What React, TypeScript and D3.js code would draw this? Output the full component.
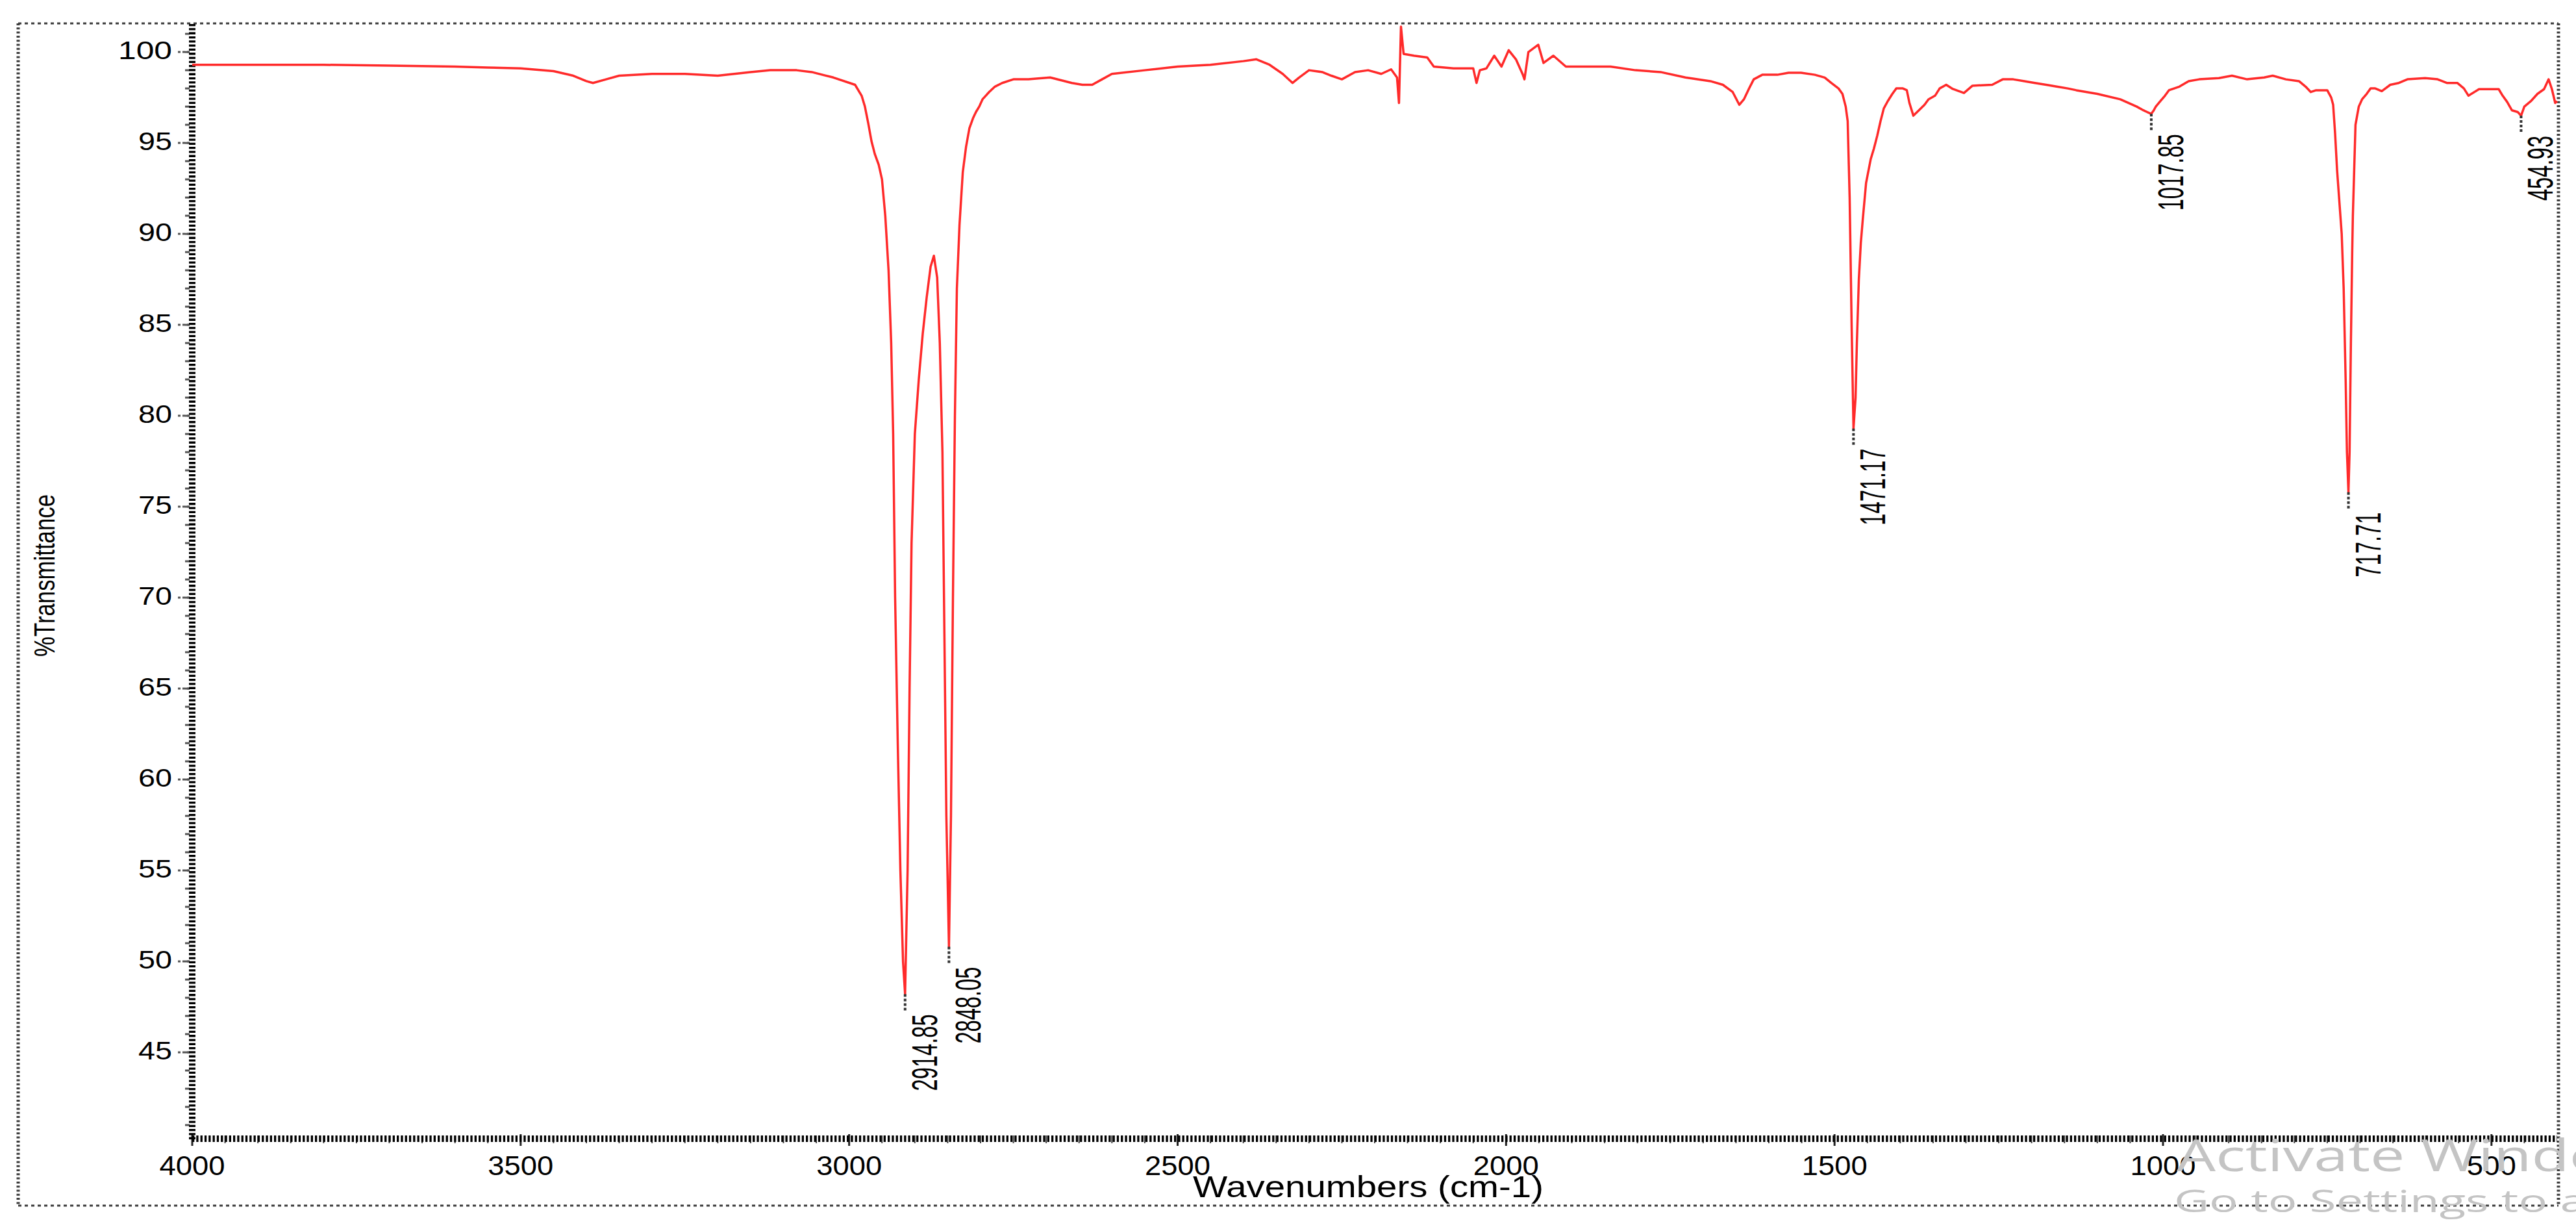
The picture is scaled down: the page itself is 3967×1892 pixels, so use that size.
import React from "react";
import * as d3 from "d3";

// ---- data ----
const wavenumbers = [
  4000, 3900, 3800, 3700, 3600, 3550, 3500, 3450, 3420, 3400, 3390, 3370, 3350, 3300, 3250, 3200, 3150, 3120, 3080, 3057,
  3024, 2991, 2981, 2976, 2971, 2966, 2961, 2955, 2950, 2945, 2940, 2936, 2933, 2930, 2926, 2922, 2918, 2914.85,
  2911, 2908, 2905, 2900, 2894, 2888, 2882, 2876, 2871, 2866, 2862, 2858, 2855, 2852, 2848.05,
  2845, 2842, 2839, 2836, 2832, 2827, 2822, 2817, 2811, 2807, 2802, 2797, 2792, 2787, 2778, 2767, 2750, 2727, 2694,
  2661, 2645, 2630, 2615, 2600, 2550, 2500, 2450, 2400, 2380, 2360, 2340, 2325, 2315, 2300, 2280, 2266, 2250, 2230,
  2210, 2190, 2175, 2166, 2163, 2160, 2156, 2140, 2120, 2110, 2080, 2050, 2045, 2040, 2030, 2018, 2007, 1996, 1985,
  1975, 1972, 1966, 1951, 1943, 1928, 1909, 1879, 1841, 1803, 1765, 1727, 1689, 1670, 1655, 1645, 1638, 1630, 1623,
  1610, 1587, 1570, 1551, 1530, 1515, 1505, 1494, 1488, 1483, 1480, 1477, 1474, 1471.17, 1468, 1466, 1463, 1460, 1457,
  1452, 1445, 1440, 1435, 1430, 1425, 1419, 1412, 1406, 1396, 1390, 1386, 1380, 1370, 1363, 1357, 1347, 1340, 1330,
  1320, 1303, 1290, 1260, 1244, 1228, 1211, 1195, 1178, 1162, 1145, 1132, 1100, 1065, 1040, 1030, 1017.85, 1014, 1011,
  1004, 997, 991, 975, 961, 945, 915, 895, 872, 846, 833, 813, 793, 783, 775, 767, 750, 744, 741, 738, 735, 731, 728,
  725, 722, 720, 717.71, 716, 714, 712, 711, 709, 707, 702, 697, 690, 684, 677, 667, 654, 641, 628, 601, 582, 568, 552,
  542, 535, 519, 502, 489, 483, 476, 469, 460, 454.93, 450, 440, 430, 420, 413, 408, 403, 400,
];
const transmittance = [
  99.3, 99.3, 99.3, 99.25, 99.2, 99.15, 99.1, 98.95, 98.7, 98.4, 98.3, 98.5, 98.7, 98.8, 98.8, 98.7, 98.9, 99.0, 99.0, 98.9,
  98.6, 98.2, 97.6, 97.0, 96.1, 95.1, 94.4, 93.8, 93.0, 91.0, 88.0, 84.0, 79.0, 70.0, 62.0, 55.0, 50.0, 48.2,
  55, 65, 73, 79, 82, 84.5, 86.5, 88.2, 88.8, 87.6, 84, 78, 68, 58, 50.8,
  58, 70, 80, 87, 90.5, 93.4, 94.8, 95.8, 96.4, 96.7, 97.0, 97.4, 97.6, 97.8, 98.1, 98.3, 98.5, 98.5, 98.6,
  98.3, 98.2, 98.2, 98.5, 98.8, 99.0, 99.2, 99.3, 99.5, 99.6, 99.3, 98.8, 98.3, 98.6, 99.0, 98.9, 98.7, 98.5, 98.9,
  99.0, 98.8, 99.05, 98.6, 97.2, 101.4, 99.9, 99.8, 99.7, 99.2, 99.1, 99.1, 98.3, 99.0, 99.1, 99.8, 99.2, 100.1, 99.6,
  98.8, 98.5, 100.0, 100.4, 99.4, 99.8, 99.2, 99.2, 99.2, 99.0, 98.9, 98.6, 98.4, 98.2, 97.8, 97.1, 97.4, 98.0, 98.5,
  98.75, 98.75, 98.86, 98.86, 98.75, 98.6, 98.3, 98.0, 97.7, 97.0, 96.2, 92, 85, 79.3, 81, 84, 87.5, 89.5, 90.8,
  92.8, 94.1, 94.7, 95.4, 96.2, 96.9, 97.3, 97.7, 98.0, 98.0, 97.9, 97.2, 96.5, 96.85, 97.1, 97.4, 97.6, 98.0, 98.2,
  97.97, 97.75, 98.15, 98.2, 98.5, 98.5, 98.4, 98.3, 98.2, 98.1, 98.0, 97.9, 97.7, 97.4, 97.0, 96.8, 96.6, 96.8, 97.0,
  97.3, 97.6, 97.9, 98.1, 98.4, 98.5, 98.57, 98.7, 98.5, 98.6, 98.7, 98.5, 98.4, 98.1, 97.8, 97.9, 97.9, 97.5, 97.1, 95.5, 93.5, 91.5, 90,
  87, 82, 78, 75.8, 78, 84, 89, 91, 93.5, 96, 97.0, 97.4, 97.7, 98.0, 98.0, 97.85, 98.2, 98.3, 98.5, 98.57, 98.5, 98.3, 98.3,
  98.0, 97.6, 97.96, 97.96, 97.96, 97.6, 97.25, 96.8, 96.7, 96.5, 97.0, 97.3, 97.7, 97.96, 98.5, 97.96, 97.2, 97.3,
];
const peakWavenumbers = [2914.85, 2848.05, 1471.17, 1017.85, 717.71, 454.93];
const peakValues = [48.2, 50.8, 79.3, 96.6, 75.8, 96.5];
const xTickValues = [4000, 3500, 3000, 2500, 2000, 1500, 1000, 500];
const yTickValues = [100, 95, 90, 85, 80, 75, 70, 65, 60, 55, 50, 45];

const FONT = "'Liberation Sans', Arial, sans-serif";

export default function App() {
  const W = 3967;
  const H = 1892;
  const left = 296, right = 3938, top = 37, bottom = 1753;
  const x = d3.scaleLinear().domain([4000, 400]).range([left, right]);
  const y = d3.scaleLinear().domain([40.25, 101.54]).range([bottom, top]);

  const pts = wavenumbers.map((w, i) => [w, transmittance[i]] as [number, number]);
  const path = d3.line<[number, number]>().x((d) => x(d[0])).y((d) => y(d[1]))(pts) || "";

  const minorY = d3.range(41, 102, 1);
  const minorX = d3.range(450, 4000, 50);

  return (
    <svg
      width={W}
      height={H}
      style={{ position: "absolute", left: 0, top: 0, display: "block", background: "#fff" }}
    >
      <rect x={0} y={0} width={W} height={H} fill="#fff" />
      {/* outer dotted frame */}
      <line x1={28} y1={36} x2={3940} y2={36} stroke="#3c3c3c" strokeWidth={3} strokeDasharray="5 5" />
      <line x1={28} y1={1856} x2={3940} y2={1856} stroke="#3c3c3c" strokeWidth={3} strokeDasharray="5 5" />
      <line x1={28} y1={36} x2={28} y2={1856} stroke="#3c3c3c" strokeWidth={5} strokeDasharray="3 3.3" />
      <line x1={3940} y1={36} x2={3940} y2={1856} stroke="#3c3c3c" strokeWidth={5} strokeDasharray="3 3.3" />

      {/* y axis minor ticks */}
      {minorY.map((v) => (
        <line key={"ym" + v} x1={285} x2={292} y1={y(v)} y2={y(v)} stroke="#555" strokeWidth={3} />
      ))}
      {yTickValues.map((v) => (
        <g key={"yt" + v}>
          <line x1={274} x2={292} y1={y(v)} y2={y(v)} stroke="#555" strokeWidth={3} strokeDasharray="4 3" />
          <text
            x={265}
            y={y(v) + 11}
            textAnchor="end"
            fontFamily={FONT}
            fontSize={38}
            textLength={String(v).length === 3 ? 83 : 52}
            lengthAdjust="spacingAndGlyphs"
            fill="#000"
          >
            {v}
          </text>
        </g>
      ))}
      {/* x axis minor ticks */}
      {minorX.map((v) => (
        <line key={"xm" + v} x1={x(v)} x2={x(v)} y1={1748} y2={1760} stroke="#444" strokeWidth={2} />
      ))}
      {xTickValues.map((v) => (
        <g key={"xt" + v}>
          <line x1={x(v)} x2={x(v)} y1={1746} y2={1764} stroke="#222" strokeWidth={3} />
          <text
            x={x(v)}
            y={1809}
            textAnchor="middle"
            fontFamily={FONT}
            fontSize={42}
            textLength={String(v).length === 4 ? 101 : 76}
            lengthAdjust="spacingAndGlyphs"
            fill="#000"
          >
            {v}
          </text>
        </g>
      ))}

      {/* axes lines (thick dotted) */}
      <line x1={left} y1={top} x2={left} y2={bottom + 4} stroke="#000" strokeWidth={10} strokeDasharray="3.3 3" />
      <line x1={left} y1={bottom} x2={right} y2={bottom} stroke="#000" strokeWidth={10} strokeDasharray="3.3 3" />

      {/* spectrum */}
      <path d={path} fill="none" stroke="#ff2a2a" strokeWidth={3.5} strokeLinejoin="round" />

      {/* peak markers and labels */}
      {peakWavenumbers.map((w, i) => {
        const px = x(w);
        const py = y(peakValues[i]);
        const label = w.toFixed(2);
        const len = (label.length - 1) * 18 + 10;
        return (
          <g key={"pk" + i}>
            <line x1={px} x2={px} y1={py} y2={py + 26} stroke="#333" strokeWidth={4} strokeDasharray="4 3" />
            <text
              transform={`translate(${px + 49},${py + 31}) rotate(-90)`}
              textAnchor="end"
              fontFamily={FONT}
              fontSize={56}
              textLength={len}
              lengthAdjust="spacingAndGlyphs"
              fill="#000"
            >
              {label}
            </text>
          </g>
        );
      })}

      {/* axis titles */}
      <text
        x={2107}
        y={1843}
        textAnchor="middle"
        fontFamily={FONT}
        fontSize={46}
        textLength={540}
        lengthAdjust="spacingAndGlyphs"
        fill="#000"
      >
        Wavenumbers (cm-1)
      </text>
      <text
        transform={`translate(84,886) rotate(-90)`}
        textAnchor="middle"
        fontFamily={FONT}
        fontSize={44}
        textLength={250}
        lengthAdjust="spacingAndGlyphs"
        fill="#000"
      >
        %Transmittance
      </text>

      {/* OS watermark visible in the reference */}
      <text x={3352} y={1803} fontFamily="'Open Sans', 'Noto Sans', sans-serif" fontSize={68} fill="#c4c4c4" transform="translate(3352,0) scale(1.4,1) translate(-3352,0)">
        Activate Windows
      </text>
      <text x={3348} y={1866} fontFamily="'Open Sans', 'Noto Sans', sans-serif" fontSize={48} fill="#c4c4c4" transform="translate(3348,0) scale(1.55,1) translate(-3348,0)">
        Go to Settings to activate Windows.
      </text>
    </svg>
  );
}
